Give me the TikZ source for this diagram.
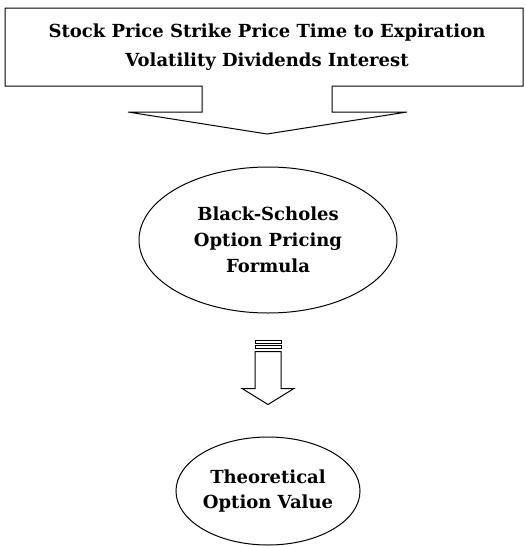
\documentclass[tikz,border=0pt]{standalone}
\usepackage{fontspec}
\setmainfont{DejaVu Serif}
\usetikzlibrary{shapes.geometric,calc}
\tikzset{
  lbl/.style={align=center, font=\bfseries\fontsize{18}{26}\selectfont},
  oval/.style={ellipse, draw, line width=1pt, inner sep=0pt, lbl}
}
\begin{document}
\begin{tikzpicture}[x=1pt,y=-1pt]
  \useasboundingbox (0,0) rectangle (526,546);
  % callout with the inputs
  \draw [line width=1pt] (5,8) -- (523,8) -- (523,86) -- (332,86) -- (332,112) -- (407,112)
    -- (267,134) -- (128,112) -- (202,112) -- (202,86) -- (5,86) -- cycle;
  \node [lbl, font=\bfseries\fontsize{18}{29}\selectfont] (inputs) at (267,47) {Stock Price Strike Price Time to Expiration\\Volatility Dividends Interest};
  \coordinate (tip) at (267,134);
  % formula and result
  \node [oval, minimum width=258pt, minimum height=146pt] (bs) at (268,240) {Black-Scholes\\Option Pricing\\Formula};
  \node [oval, minimum width=176pt, minimum height=108pt, font=\bfseries\fontsize{18}{25}\selectfont] (tov) at (268,491) {Theoretical\\Option Value};
  % striped block arrow
  \coordinate (a) at ($(bs.south)+(0,27)$);
  \draw [line width=1pt] ($(a)+(-13,0)$) rectangle ($(a)+(13,3)$);
  \draw [line width=1pt] ($(a)+(-13,5)$) rectangle ($(a)+(13,8)$);
  \draw [line width=1pt] ($(a)+(-13,11)$) -- ($(a)+(-13,48)$) -- ($(a)+(-26,48)$) -- ($(tov.north)+(0,-32)$)
    -- ($(a)+(26,48)$) -- ($(a)+(13,48)$) -- ($(a)+(13,11)$) -- cycle;
\end{tikzpicture}
\end{document}
